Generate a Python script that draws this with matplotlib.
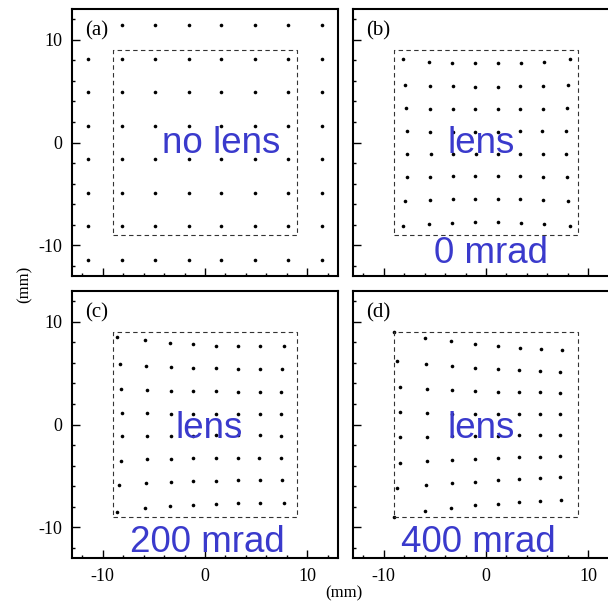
import numpy as np
import matplotlib
matplotlib.use('Agg')
import matplotlib.pyplot as plt
from matplotlib.ticker import MultipleLocator

plt.rcParams['axes.unicode_minus'] = False
plt.rcParams['font.family'] = 'Liberation Serif'

# (a) no lens: regular grid of spots
a_pos = [-11.4, -8.1, -4.9, -1.6, 1.6, 4.9, 8.1, 11.4]

# (b) lens, 0 mrad (rows top to bottom)
b_x = [[-8.09, -5.62, -3.28, -1.03, 1.15, 3.42, 5.70, 8.17],
       [-7.90, -5.52, -3.24, -1.03, 1.15, 3.36, 5.60, 7.98],
       [-7.80, -5.46, -3.20, -1.03, 1.15, 3.36, 5.60, 7.88],
       [-7.70, -5.46, -3.20, -1.03, 1.15, 3.33, 5.50, 7.80],
       [-7.70, -5.42, -3.20, -1.00, 1.15, 3.33, 5.57, 7.84],
       [-7.76, -5.49, -3.24, -1.03, 1.15, 3.36, 5.60, 7.88],
       [-7.90, -5.52, -3.24, -1.03, 1.15, 3.36, 5.60, 7.98],
       [-8.09, -5.62, -3.28, -1.03, 1.15, 3.42, 5.70, 8.17]]
b_y = [[8.09, 7.86, 7.76, 7.73, 7.73, 7.76, 7.86, 8.09],
       [5.59, 5.49, 5.46, 5.42, 5.42, 5.46, 5.49, 5.59],
       [3.34, 3.31, 3.27, 3.24, 3.24, 3.27, 3.31, 3.34],
       [1.10, 1.07, 1.07, 1.07, 1.07, 1.10, 1.10, 1.10],
       [-1.15, -1.15, -1.12, -1.12, -1.12, -1.12, -1.15, -1.15],
       [-3.36, -3.33, -3.29, -3.29, -3.29, -3.29, -3.33, -3.36],
       [-5.70, -5.60, -5.54, -5.50, -5.50, -5.54, -5.60, -5.70],
       [-8.14, -7.94, -7.84, -7.78, -7.78, -7.84, -7.94, -8.14]]

# (c) lens, 200 mrad
c_x = [[-8.61, -5.88, -3.41, -1.13, 1.05, 3.23, 5.41, 7.68],
       [-8.35, -5.75, -3.37, -1.13, 1.05, 3.20, 5.34, 7.52],
       [-8.22, -5.68, -3.34, -1.13, 1.05, 3.20, 5.34, 7.46],
       [-8.12, -5.65, -3.37, -1.13, 1.05, 3.23, 5.34, 7.42],
       [-8.15, -5.68, -3.37, -1.13, 1.05, 3.20, 5.34, 7.42],
       [-8.25, -5.68, -3.37, -1.13, 1.05, 3.20, 5.30, 7.42],
       [-8.38, -5.75, -3.37, -1.13, 1.05, 3.20, 5.34, 7.52],
       [-8.61, -5.88, -3.44, -1.13, 1.05, 3.23, 5.41, 7.68]]
c_y = [[8.51, 8.19, 7.96, 7.80, 7.67, 7.63, 7.63, 7.67],
       [5.91, 5.68, 5.59, 5.49, 5.46, 5.42, 5.39, 5.39],
       [3.50, 3.37, 3.31, 3.28, 3.24, 3.21, 3.18, 3.18],
       [1.13, 1.10, 1.07, 1.07, 1.07, 1.07, 1.03, 1.03],
       [-1.15, -1.08, -1.08, -1.08, -1.05, -1.05, -1.05, -1.08],
       [-3.52, -3.39, -3.33, -3.29, -3.26, -3.26, -3.23, -3.23],
       [-5.93, -5.70, -5.60, -5.50, -5.47, -5.41, -5.37, -5.41],
       [-8.56, -8.17, -7.94, -7.85, -7.72, -7.65, -7.65, -7.68]]

# (d) lens, 400 mrad
d_x = [[-8.97, -6.00, -3.41, -1.03, 1.15, 3.29, 5.37, 7.39],
       [-8.67, -5.85, -3.37, -1.03, 1.15, 3.23, 5.28, 7.26],
       [-8.45, -5.78, -3.37, -1.03, 1.15, 3.20, 5.28, 7.23],
       [-8.38, -5.72, -3.37, -1.03, 1.15, 3.20, 5.25, 7.20],
       [-8.38, -5.72, -3.37, -1.03, 1.15, 3.20, 5.25, 7.20],
       [-8.45, -5.78, -3.37, -1.03, 1.15, 3.20, 5.28, 7.23],
       [-8.67, -5.85, -3.37, -1.03, 1.15, 3.23, 5.28, 7.26],
       [-8.97, -6.00, -3.41, -1.03, 1.15, 3.23, 5.32, 7.32]]
d_y = [[8.97, 8.45, 8.12, 7.86, 7.67, 7.47, 7.34, 7.24],
       [6.20, 5.88, 5.65, 5.49, 5.39, 5.29, 5.20, 5.10],
       [3.63, 3.47, 3.34, 3.24, 3.21, 3.15, 3.12, 3.02],
       [1.20, 1.10, 1.07, 1.07, 1.03, 1.03, 1.00, 1.00],
       [-1.21, -1.18, -1.11, -1.11, -1.08, -1.05, -1.05, -1.02],
       [-3.72, -3.52, -3.42, -3.33, -3.26, -3.20, -3.13, -3.07],
       [-6.22, -5.89, -5.70, -5.57, -5.44, -5.31, -5.24, -5.15],
       [-9.02, -8.46, -8.14, -7.88, -7.72, -7.55, -7.42, -7.33]]

box_half = 9.0
panel_tags = ['(a)', '(b)', '(c)', '(d)']
lens_labels = ['no lens', 'lens', 'lens', 'lens']
angle_labels = ['', '0 mrad', '200 mrad', '400 mrad']

ax_grid, ay_grid = np.meshgrid(a_pos, a_pos)
spots = [(ax_grid, ay_grid), (b_x, b_y), (c_x, c_y), (d_x, d_y)]

# layout (pixels of a 608x602 figure)
W, H = 608.0, 602.0
pw, ph = 266.0, 267.0
lefts = [72, 353, 72, 353]
tops = [9, 9, 291, 291]
lens_xy = [(1.6, -1.0), (-0.5, -1.0), (0.4, -1.3), (-0.5, -1.3)]
angle_xy = [None, (0.5, -11.7), (0.2, -12.4), (-0.7, -12.4)]
blue = '#3a3acc'

fig = plt.figure(figsize=(6.08, 6.02), dpi=100)

for i in range(4):
    ax = fig.add_axes([lefts[i] / W, 1 - (tops[i] + ph) / H, pw / W, ph / H])
    xs = np.asarray(spots[i][0]).ravel()
    ys = np.asarray(spots[i][1]).ravel()
    ax.plot(xs, ys, 'o', color='black', markersize=2.6, markeredgewidth=0)

    bx = [-box_half, box_half, box_half, -box_half, -box_half]
    by = [-box_half, -box_half, box_half, box_half, -box_half]
    ax.plot(bx, by, color='#333333', lw=0.8, dashes=(4, 3))

    ax.set_xlim(-13, 13)
    ax.set_ylim(-13, 13)
    ax.xaxis.set_major_locator(MultipleLocator(10))
    ax.yaxis.set_major_locator(MultipleLocator(10))
    ax.xaxis.set_minor_locator(MultipleLocator(2))
    ax.yaxis.set_minor_locator(MultipleLocator(2))
    ax.tick_params(which='both', direction='in', top=False, right=False,
                   width=1.0, labelsize=13, pad=7)
    ax.tick_params(which='major', length=6)
    ax.tick_params(which='minor', length=2.5)
    for s in ax.spines.values():
        s.set_linewidth(1.5)
    if i < 2:
        ax.tick_params(labelbottom=False)
    if i % 2 == 1:
        ax.tick_params(labelleft=False)

    # panel tag sits on a white patch (hides the corner spot in (a))
    ax.text(-11.7, 10.9, panel_tags[i], fontsize=15, va='center', ha='left',
            bbox=dict(facecolor='white', edgecolor='none', pad=1.5))
    lx, ly = lens_xy[i]
    ax.text(lx, ly, lens_labels[i], color=blue, fontsize=26.5,
            family='Liberation Sans', ha='center', va='baseline')
    if angle_xy[i] is not None:
        tx, ty = angle_xy[i]
        ax.text(tx, ty, angle_labels[i], color=blue, fontsize=26.5,
                family='Liberation Sans', ha='center', va='baseline')

fig.text(25 / W, 1 - 284 / H, '(mm)', rotation=90, fontsize=12,
         ha='center', va='center')
fig.text(344 / W, 1 - 593 / H, '(mm)', fontsize=12, ha='center', va='center')

fig.savefig('out.png', dpi=100)
